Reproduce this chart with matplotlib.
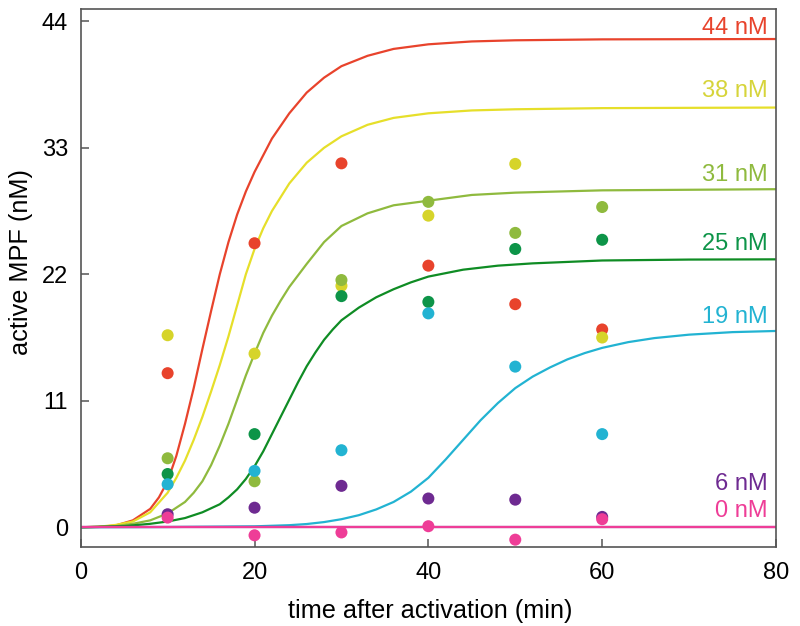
import matplotlib
matplotlib.use("Agg")
import matplotlib.pyplot as plt

plt.rcParams['font.family'] = ['Liberation Sans', 'DejaVu Sans']

# measured points (nM) at 10..60 min
T_PTS = [10, 20, 30, 40, 50, 60]
PTS_44 = [13.4, 24.7, 31.65, 22.75, 19.4, 17.2]
PTS_38 = [16.7, 15.1, 21.0, 27.1, 31.6, 16.5]
PTS_31 = [6.0, 4.0, 21.5, 28.3, 25.6, 27.85]
PTS_25 = [4.63, 8.1, 20.1, 19.6, 24.2, 25.0]
PTS_19 = [3.74, 4.9, 6.7, 18.6, 13.97, 8.1]
PTS_6 = [1.13, 1.7, 3.6, 2.5, 2.4, 0.9]
PTS_0 = [0.84, -0.7, -0.45, 0.09, -1.08, 0.7]

# model curves
T_44 = [0, 2, 4, 6, 8, 9, 10, 11, 12, 13, 14, 15, 16, 17, 18, 19, 20, 22, 24,
        26, 28, 30, 33, 36, 40, 45, 50, 60, 80]
V_44 = [0, 0.03, 0.15, 0.6, 1.6, 2.6, 4.0, 6.2, 9.0, 12.1, 15.5, 18.8, 22.0,
        24.8, 27.2, 29.2, 30.9, 33.8, 36.0, 37.8, 39.1, 40.1, 41.0, 41.6, 42.0,
        42.25, 42.35, 42.43, 42.46]
T_38 = [0, 2, 4, 6, 8, 10, 11, 12, 13, 14, 15, 16, 17, 18, 19, 20, 21, 22, 24,
        26, 28, 30, 33, 36, 40, 45, 50, 60, 80]
V_38 = [0, 0.04, 0.2, 0.5, 1.3, 3.0, 4.3, 5.8, 7.6, 9.6, 11.8, 14.1, 16.6,
        19.3, 22.0, 24.2, 26.0, 27.5, 29.9, 31.7, 33.0, 34.0, 35.0, 35.6, 36.0,
        36.25, 36.35, 36.45, 36.5]
T_31 = [0, 2, 4, 6, 8, 10, 12, 13, 14, 15, 16, 17, 18, 19, 20, 21, 22, 23, 24,
        26, 28, 30, 33, 36, 40, 45, 50, 60, 80]
V_31 = [0, 0.02, 0.1, 0.3, 0.6, 1.2, 2.2, 3.0, 4.0, 5.4, 7.1, 9.0, 11.1, 13.2,
        15.1, 16.9, 18.4, 19.7, 20.9, 22.9, 24.8, 26.2, 27.3, 28.0, 28.4, 28.9,
        29.1, 29.3, 29.4]
T_25 = [0, 5, 8, 10, 12, 14, 16, 17, 18, 19, 20, 21, 22, 23, 24, 25, 26, 27,
        28, 29, 30, 32, 34, 36, 38, 40, 44, 48, 52, 60, 70, 80]
V_25 = [0, 0.1, 0.3, 0.5, 0.8, 1.3, 2.0, 2.6, 3.3, 4.2, 5.3, 6.6, 8.1, 9.6,
        11.1, 12.6, 14.0, 15.2, 16.3, 17.2, 18.0, 19.1, 20.0, 20.7, 21.3, 21.8,
        22.4, 22.75, 22.95, 23.2, 23.28, 23.3]
T_19 = [0, 10, 20, 24, 26, 28, 30, 32, 34, 36, 38, 40, 42, 44, 46, 48, 50, 52,
        54, 56, 58, 60, 63, 66, 70, 75, 80]
V_19 = [0, 0.02, 0.08, 0.18, 0.28, 0.45, 0.7, 1.05, 1.55, 2.2, 3.1, 4.3, 5.9,
        7.6, 9.3, 10.8, 12.1, 13.1, 13.9, 14.6, 15.15, 15.6, 16.1, 16.45,
        16.75, 16.97, 17.07]
T_6 = [0, 80]
V_6 = [0, 0]
T_0 = [0, 80]
V_0 = [0, 0]

LABELS = ['44 nM', '38 nM', '31 nM', '25 nM', '19 nM', '6 nM', '0 nM']
LABEL_Y = [42.9, 37.4, 30.1, 24.1, 17.8, 3.25, 0.87]

LINE_COLORS = ['#e8432c', '#e6df2a', '#8fba3e', '#0f8c24', '#22b3d2',
               '#6e2a91', '#ee3d97']
DOT_COLORS = ['#e8432c', '#d6d42a', '#8fba3e', '#0d9448', '#22b3d2',
              '#6e2a91', '#ee3d97']
TEXT_COLORS = ['#e8432c', '#d6d43a', '#8fba3e', '#0d9448', '#22b3d2',
               '#6e2a91', '#ee3d97']


def main():
    curves = [(T_44, V_44), (T_38, V_38), (T_31, V_31), (T_25, V_25),
              (T_19, V_19), (T_6, V_6), (T_0, V_0)]
    points = [PTS_44, PTS_38, PTS_31, PTS_25, PTS_19, PTS_6, PTS_0]

    fig = plt.figure(figsize=(8.0, 6.26), dpi=100)
    ax = fig.add_axes([0.1009, 0.1267, 0.8691, 0.8589])

    for (t, v), c in zip(curves, LINE_COLORS):
        ax.plot(t, v, color=c, lw=1.6, zorder=2, solid_capstyle='butt')
    for pts, c in zip(points, DOT_COLORS):
        ax.scatter(T_PTS, pts, s=75, color=c, edgecolors='none', zorder=3)
    for lab, y, c in zip(LABELS, LABEL_Y, TEXT_COLORS):
        ax.text(79.0, y, lab, color=c, fontsize=17, ha='right', va='baseline')

    ax.set_xlim(0, 80)
    ax.set_ylim(-1.69, 45.07)
    ax.set_xticks([0, 20, 40, 60, 80])
    ax.set_yticks([0, 11, 22, 33, 44])
    ax.tick_params(direction='in', length=6, width=1.1, color='#555555',
                   labelsize=17, pad=9)
    ax.tick_params(axis='x', pad=11)
    for sp in ax.spines.values():
        sp.set_color('#555555')
        sp.set_linewidth(1.2)

    ax.set_xlabel('time after activation (min)', fontsize=18.2)
    ax.set_ylabel('active MPF (nM)', fontsize=18.2)
    ax.xaxis.set_label_coords(0.502, -0.097)
    ax.yaxis.set_label_coords(-0.068, 0.53)

    fig.savefig('out.png', dpi=100)


if __name__ == '__main__':
    main()
